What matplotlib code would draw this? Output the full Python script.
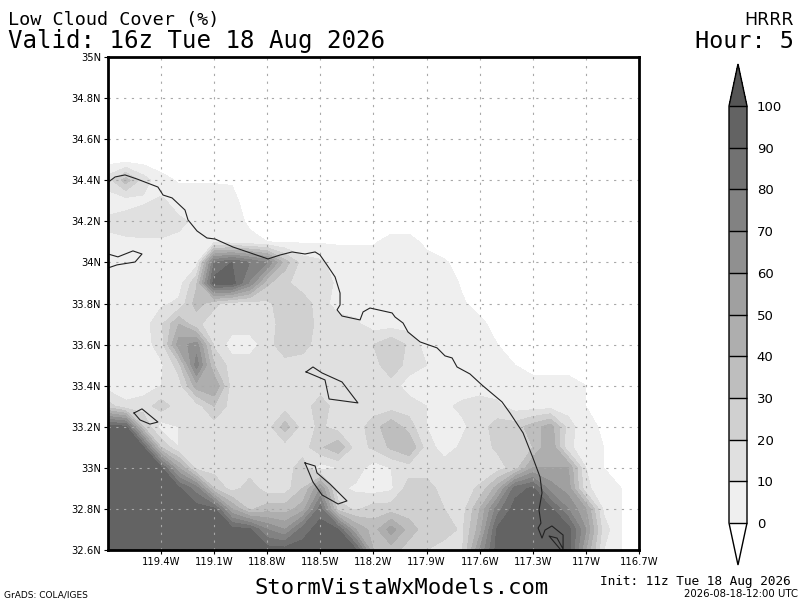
import numpy as np
import matplotlib
matplotlib.use("Agg")
import matplotlib.pyplot as plt

lons = [-119.7 + 0.1 * i for i in range(31)]
lats = [34.5, 34.4, 34.3, 34.2, 34.1, 34.0, 33.9, 33.8, 33.7, 33.6,
        33.5, 33.4, 33.3, 33.2, 33.1, 33.0, 32.9, 32.8, 32.7, 32.6]
W = -5
cloud = [
 [W]*31,
 [15,35,15,3,-1,-1,-1,-1,-4,W,W,W,W,W,W,W,W,W,W,W,W,W,W,W,W,W,W,W,W,W,W],
 [5,5,8,12,5,5,5,3,W,W,W,W,W,W,W,W,W,W,W,W,W,W,W,W,W,W,W,W,W,W,W],
 [12,15,18,18,12,8,5,5,-2,W,W,W,W,W,W,W,W,W,W,W,W,W,W,W,W,W,W,W,W,W,W],
 [8,8,8,8,8,8,8,5,3,0,-1,-1,-1,-1,-1,-1,3,3,-2,W,W,W,W,W,W,W,W,W,W,W,W],
 [5,5,5,5,10,5,80,90,80,70,35,15,12,5,5,5,5,5,3,1,-3,W,W,W,W,W,W,W,W,W,W],
 [5,5,5,5,5,28,95,95,68,32,22,15,15,8,5,5,5,5,5,4,-1,W,W,W,W,W,W,W,W,W,W],
 [5,5,5,8,12,35,22,15,15,18,25,25,15,5,5,5,5,5,5,5,1,-3,W,W,W,W,W,W,W,W,W],
 [5,5,5,18,40,22,15,15,15,15,25,28,15,15,12,5,5,5,5,5,5,2,-3,W,W,W,W,W,W,W,W],
 [5,5,5,15,55,65,18,5,5,15,28,24,15,15,15,20,28,18,5,5,5,5,0,W,W,W,W,W,W,W,W],
 [5,5,5,8,25,75,30,15,15,15,15,15,15,15,15,15,28,15,10,5,5,5,5,0,W,W,W,W,W,W,W],
 [5,5,5,10,15,45,50,15,15,15,15,20,15,12,15,10,15,5,5,5,5,5,5,5,5,5,5,0,W,W,W],
 [25,12,15,25,15,15,30,15,15,15,15,15,25,15,15,15,15,15,10,8,12,15,12,5,5,5,5,0,W,W,W],
 [95,92,30,5,10,15,15,15,15,15,35,15,22,15,15,25,38,25,10,5,8,15,25,25,35,45,15,2,-1,W,W],
 [95,95,90,30,10,15,15,15,15,15,15,15,28,38,15,22,32,40,15,5,12,15,22,25,30,50,12,5,0,W,W],
 [95,95,95,92,50,15,15,15,15,15,15,25,5,10,15,5,10,15,15,15,12,12,15,25,50,50,50,10,0,W,W],
 [95,95,95,95,92,75,30,15,25,15,15,30,60,12,8,5,8,25,25,15,15,22,45,85,92,65,55,12,5,0,W],
 [95,95,95,95,95,95,92,50,28,35,35,45,85,25,18,25,25,25,25,20,15,40,75,95,95,92,70,50,8,0,-3],
 [95,95,95,95,95,95,95,95,92,70,60,85,95,90,50,35,55,35,25,25,18,45,92,95,95,95,95,60,15,0,W],
 [95,95,95,95,95,95,95,95,95,95,95,95,95,95,92,40,35,25,20,15,18,60,95,95,95,95,95,50,10,0,W],
]
levels = [0, 10, 20, 30, 40, 50, 60, 70, 80, 90, 100]
shades = ['#efefef', '#e0e0e0', '#d0d0d0', '#bebebe', '#aeaeae',
          '#a0a0a0', '#909090', '#828282', '#727272', '#636363']
under_shade = '#ffffff'
over_shade = '#555555'

coast_lon = [-119.7, -119.689, -119.66, -119.604, -119.536, -119.418, -119.389, -119.338,
             -119.265, -119.248, -119.197, -119.141, -119.095, -118.994, -118.796, -118.728,
             -118.66, -118.587, -118.53, -118.502, -118.463, -118.417, -118.389, -118.389,
             -118.406, -118.378, -118.276, -118.259, -118.22, -118.095, -118.078, -118.033,
             -118.005, -117.937, -117.841, -117.796, -117.756, -117.728, -117.655, -117.587,
             -117.474, -117.429, -117.355, -117.299, -117.259, -117.248, -117.265, -117.254,
             -117.27, -117.248, -117.231, -117.192, -117.129, -117.129, -117.163, -117.208, -117.146]
coast_lat = [34.39, 34.397, 34.416, 34.426, 34.406, 34.367, 34.328, 34.314,
             34.255, 34.207, 34.153, 34.119, 34.114, 34.075, 34.017, 34.036,
             34.051, 34.041, 34.051, 34.036, 33.988, 33.929, 33.851, 33.793,
             33.769, 33.739, 33.72, 33.759, 33.778, 33.754, 33.734, 33.705,
             33.661, 33.613, 33.584, 33.545, 33.535, 33.491, 33.457, 33.403,
             33.321, 33.267, 33.17, 33.048, 32.955, 32.878, 32.795, 32.731,
             32.707, 32.658, 32.697, 32.717, 32.673, 32.605, 32.658, 32.668, 32.605]
rosa_lon = [-119.7, -119.644, -119.559, -119.508, -119.547, -119.649, -119.7]
rosa_lat = [34.041, 34.027, 34.056, 34.041, 34.002, 33.988, 33.973]
catalina_lon = [-118.581, -118.542, -118.491, -118.378, -118.288, -118.451, -118.474, -118.581]
catalina_lat = [33.467, 33.491, 33.462, 33.418, 33.316, 33.335, 33.428, 33.467]
nicolas_lon = [-119.553, -119.508, -119.418, -119.463, -119.519, -119.553]
nicolas_lat = [33.267, 33.287, 33.223, 33.213, 33.233, 33.267]
clemente_lon = [-118.587, -118.53, -118.519, -118.446, -118.35, -118.4, -118.491, -118.542, -118.587]
clemente_lat = [33.024, 33.009, 32.975, 32.921, 32.839, 32.824, 32.868, 32.931, 33.024]

lon_ticks = [-119.4, -119.1, -118.8, -118.5, -118.2, -117.9, -117.6, -117.3, -117.0, -116.7]
lon_labels = ['119.4W', '119.1W', '118.8W', '118.5W', '118.2W', '117.9W', '117.6W', '117.3W', '117W', '116.7W']
lat_ticks = [32.6, 32.8, 33, 33.2, 33.4, 33.6, 33.8, 34, 34.2, 34.4, 34.6, 34.8, 35]
lat_labels = ['32.6N', '32.8N', '33N', '33.2N', '33.4N', '33.6N', '33.8N', '34N', '34.2N', '34.4N', '34.6N', '34.8N', '35N']
bar_ticks = levels

fig = plt.figure(figsize=(8, 6), dpi=100)
ax = fig.add_axes([108/800, 50/600, 531/800, 493/600])
cf = ax.contourf(lons, lats, cloud, levels=levels, colors=shades, extend='both', antialiased=False)
cf.cmap.set_under(under_shade)
cf.cmap.set_over(over_shade)
ax.set_xlim(-119.7, -116.7)
ax.set_ylim(32.6, 35)

ax.set_xticks(lon_ticks)
ax.set_xticklabels(lon_labels, fontsize=7.2)
ax.set_yticks(lat_ticks)
ax.set_yticklabels(lat_labels, fontsize=7.2)
ax.tick_params(length=3, width=0.8, pad=2)
ax.grid(True, color='#a8a8a8', linewidth=0.8, linestyle=(0, (2, 5)))
ax.set_axisbelow('line')
for s in ax.spines.values():
    s.set_linewidth(2)

for xs, ys in [(coast_lon, coast_lat), (rosa_lon, rosa_lat), (catalina_lon, catalina_lat),
               (nicolas_lon, nicolas_lat), (clemente_lon, clemente_lat)]:
    ax.plot(xs, ys, color='#222222', linewidth=0.8, clip_on=True)

cax = fig.add_axes([729/800, (600-565)/600, 18/800, (565-64)/600])
cb = fig.colorbar(cf, cax=cax, extend='both', extendfrac=42/417, drawedges=True, ticks=bar_ticks)
cb.ax.tick_params(length=0, labelsize=9.5, pad=7)
cb.outline.set_linewidth(1)
cb.dividers.set_linewidth(1)
cb.dividers.set_color('black')

MONO = 'DejaVu Sans Mono'

def label(x, y, s, size, ha='left', **kw):
    fig.text(x/800, 1 - y/600, s, fontsize=size, ha=ha, va='baseline', color='black', **kw)

label(8, 25, 'Low Cloud Cover (%)', 13.3, family=MONO)
label(8, 48, 'Valid: 16z Tue 18 Aug 2026', 17.4, family=MONO)
label(794, 25, 'HRRR', 12.5, ha='right')
label(794, 48, 'Hour: 5', 16.8, ha='right', family=MONO)
label(255, 594, 'StormVistaWxModels.com', 15.9, family=MONO)
label(600, 585, 'Init: 11z Tue 18 Aug 2026', 9.2, family=MONO)
label(4, 597, 'GrADS: COLA/IGES', 6.5)
label(798, 597, '2026-08-18-12:00 UTC', 7.3, ha='right')

fig.savefig('out.png', dpi=100)
